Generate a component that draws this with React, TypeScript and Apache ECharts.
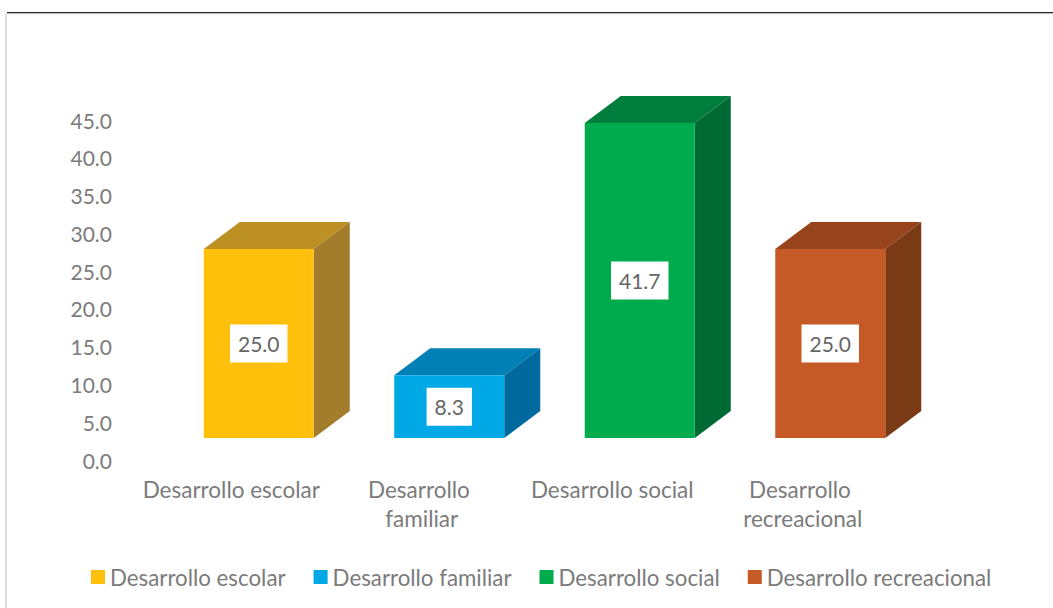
import React, { useEffect, useRef } from "react";
import * as echarts from "echarts";

const categories = ["Desarrollo escolar", "Desarrollo familiar", "Desarrollo social", "Desarrollo recreacional"];
const values = [25.0, 8.3, 41.7, 25.0];
const frontColors = ["#FFC00C", "#00A9E6", "#00AB4E", "#C65A27"];
const topColors = ["#BD9023", "#0080B4", "#007E3E", "#97441C"];
const sideColors = ["#A37D2B", "#006A9E", "#006A35", "#7A3A16"];
const yTicks = [0, 5, 10, 15, 20, 25, 30, 35, 40, 45];
const FONT = "Lato";
const TEXT = "#7b7b7b";

const SHIFT_X = 27.5;
const FLOOR_Y = -22;
const DEPTH_X = 36;
const DEPTH_Y = 27;

const renderBar = (params: any, api: any) => {
  const idx = api.value(0);
  const val = api.value(1);
  const s = params.seriesIndex;
  const base = api.coord([idx, 0]);
  const top = api.coord([idx, val]);
  const w = 110;
  const x0 = base[0] + SHIFT_X - w / 2;
  const x1 = x0 + w;
  const y0 = base[1] + FLOOR_Y;
  const y1 = top[1] + FLOOR_Y;
  return {
    type: "group",
    children: [
      { type: "polygon", shape: { points: [[x0, y1], [x0 + DEPTH_X, y1 - DEPTH_Y], [x1 + DEPTH_X, y1 - DEPTH_Y], [x1, y1]] }, style: { fill: topColors[s] } },
      { type: "polygon", shape: { points: [[x1, y1], [x1 + DEPTH_X, y1 - DEPTH_Y], [x1 + DEPTH_X, y0 - DEPTH_Y], [x1, y0]] }, style: { fill: sideColors[s] } },
      { type: "rect", shape: { x: x0, y: y1, width: w, height: y0 - y1 }, style: { fill: frontColors[s] } },
      {
        type: "text",
        x: (x0 + x1) / 2,
        y: (y0 + y1) / 2,
        style: {
          text: val.toFixed(1),
          align: "center",
          verticalAlign: "middle",
          font: `21px ${FONT}`,
          fill: "#666666",
          backgroundColor: "#ffffff",
          padding: [9, 8, 8, 8],
        },
      },
    ],
  };
};

export default function App() {
  const ref = useRef<HTMLDivElement>(null);
  useEffect(() => {
    document.body.style.margin = "0";
    const chart = echarts.init(ref.current!, null, { renderer: "svg" });
    chart.setOption({
      animation: false,
      backgroundColor: "#ffffff",
      textStyle: { fontFamily: FONT },
      grid: { left: 136, right: 155, top: 120, bottom: 148, containLabel: false },
      xAxis: {
        type: "category",
        data: categories,
        axisLine: { show: false },
        axisTick: { show: false },
        splitLine: { show: false },
        axisLabel: {
          interval: 0,
          color: TEXT,
          fontFamily: FONT,
          fontSize: 22.5,
          lineHeight: 29,
          margin: 15,
          width: 178,
          overflow: "break",
        },
      },
      yAxis: {
        type: "value",
        min: yTicks[0],
        max: yTicks[yTicks.length - 1],
        interval: 5,
        axisLine: { show: false },
        axisTick: { show: false },
        splitLine: { show: false },
        axisLabel: {
          color: TEXT,
          fontFamily: FONT,
          fontSize: 21,
          margin: 24,
          formatter: (v: number) => v.toFixed(1),
        },
      },
      legend: {
        left: 86,
        top: 561,
        itemWidth: 14,
        itemHeight: 14,
        itemGap: 28,
        icon: "rect",
        data: categories,
        textStyle: { color: TEXT, fontFamily: FONT, fontSize: 22.3 },
      },
      series: categories.map((name, i) => ({
        type: "custom",
        name,
        renderItem: renderBar,
        itemStyle: { color: frontColors[i] },
        encode: { x: 0, y: 1 },
        clip: false,
        data: [[i, values[i]]],
      })),
      graphic: [
        { type: "rect", silent: true, shape: { x: 5, y: 13, width: 2, height: 595 }, style: { fill: "#dcdcdc" } },
        { type: "rect", silent: true, shape: { x: 7, y: 12, width: 1046, height: 1.5 }, style: { fill: "#222222" } },
        { type: "rect", silent: true, shape: { x: 7, y: 13.5, width: 1046, height: 1 }, style: { fill: "#eeeeee" } },
      ],
    });
    return () => chart.dispose();
  }, []);
  return <div ref={ref} style={{ width: 1053, height: 608 }} />;
}
